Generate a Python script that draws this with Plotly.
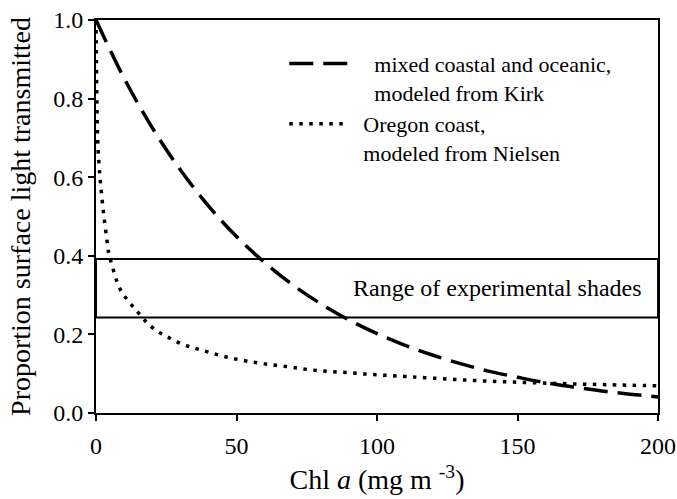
import plotly.graph_objects as go

# Kirk model (mixed coastal and oceanic)
kirk_x = [0, 10, 20, 30, 40, 50, 60, 70, 80, 90, 100, 110, 120, 130, 140, 150, 160, 170, 180, 190, 200]
kirk_y = [1.000, 0.852, 0.726, 0.619, 0.527, 0.449, 0.383, 0.326, 0.278, 0.237, 0.202,
          0.172, 0.147, 0.125, 0.106, 0.091, 0.077, 0.066, 0.056, 0.048, 0.041]

# Nielsen model (Oregon coast)
nielsen_x = [0, 0.1, 0.2, 0.35, 0.5, 0.75, 1.0, 1.3, 1.6, 2.0, 2.5, 3.0, 3.8, 4.5, 5.4, 6.5,
             7.7, 9.4, 12.2, 15.3, 18.4, 21.8, 25.3, 28.8, 32.4, 36, 40, 46, 53, 60, 68, 75,
             82, 89, 96, 103, 110, 117, 131, 147, 165, 182, 200]
nielsen_y = [1.0, 0.93, 0.86, 0.78, 0.72, 0.67, 0.64, 0.61, 0.585, 0.555, 0.52, 0.49, 0.445,
             0.408, 0.383, 0.356, 0.330, 0.305, 0.279, 0.253, 0.228, 0.208, 0.194, 0.181,
             0.171, 0.163, 0.155, 0.143, 0.133, 0.125, 0.118, 0.111, 0.106, 0.103, 0.099,
             0.096, 0.093, 0.090, 0.084, 0.079, 0.075, 0.072, 0.069]

# Range of experimental shades
shade_low = 0.243
shade_high = 0.392
shade_label = "Range of experimental shades"
shade_label_x = 143

x_ticks = [0, 50, 100, 150, 200]
y_ticks = [0.0, 0.2, 0.4, 0.6, 0.8, 1.0]

kirk_name = ["mixed coastal and oceanic,", "modeled from Kirk"]
nielsen_name = ["Oregon coast,", "modeled from Nielsen"]
PAD = "\u2002\u2002"

FONT = "Times"

fig = go.Figure()
fig.add_trace(go.Scatter(
    x=kirk_x, y=kirk_y, mode="lines",
    name="<br>".join(PAD + s for s in kirk_name),
    line=dict(color="black", width=3.5, dash="24px,10px", shape="spline"),
))
fig.add_trace(go.Scatter(
    x=nielsen_x, y=nielsen_y, mode="lines",
    name="<br>".join("\u2002" + s for s in nielsen_name),
    line=dict(color="black", width=3.5, dash="3.5px,6.5px", shape="spline"),
))

fig.add_shape(type="rect", xref="x", yref="y", x0=x_ticks[0], x1=x_ticks[-1],
              y0=shade_low, y1=shade_high, line=dict(color="black", width=2),
              fillcolor="rgba(0,0,0,0)")
fig.add_annotation(x=shade_label_x, y=(shade_low + shade_high) / 2, xref="x", yref="y",
                   text=shade_label, showarrow=False,
                   font=dict(family=FONT, size=24, color="black"))

fig.update_layout(
    width=677, height=499,
    margin=dict(l=96, r=19, t=20, b=86, autoexpand=False),
    paper_bgcolor="white", plot_bgcolor="white",
    font=dict(family=FONT, size=23, color="black"),
    showlegend=True,
    legend=dict(x=0.335, y=0.942, xanchor="left", yanchor="top",
                bgcolor="rgba(0,0,0,0)", font=dict(family=FONT, size=22, color="black"),
                valign="top", tracegroupgap=0, itemwidth=58),
)
fig.update_xaxes(
    range=[0, 200], tickvals=x_ticks, ticktext=[str(v) for v in x_ticks],
    showline=True, linecolor="black", linewidth=2, mirror=True,
    ticks="outside", ticklen=6, tickwidth=2, tickcolor="black",
    showgrid=False, zeroline=False, automargin=False, ticklabelstandoff=4,
    ticklabeloverflow="allow",
    tickfont=dict(family=FONT, size=24, color="black"),
    title=dict(text="Chl <i>a</i> (mg m <sup>-3</sup>)", font=dict(family=FONT, size=28, color="black"), standoff=12),
)
fig.update_yaxes(
    range=[0, 1], tickvals=y_ticks, ticktext=[f"{v:.1f}" for v in y_ticks],
    showline=True, linecolor="black", linewidth=2, mirror=True,
    ticks="outside", ticklen=6, tickwidth=2, tickcolor="black",
    showgrid=False, zeroline=False, automargin=False, ticklabeloverflow="allow",
    tickfont=dict(family=FONT, size=24, color="black"),
    title=dict(text="Proportion surface light transmitted", font=dict(family=FONT, size=28, color="black"), standoff=14),
)

fig.write_html("out.html", config={"displayModeBar": False},
               post_script="document.body.style.margin='0';")
